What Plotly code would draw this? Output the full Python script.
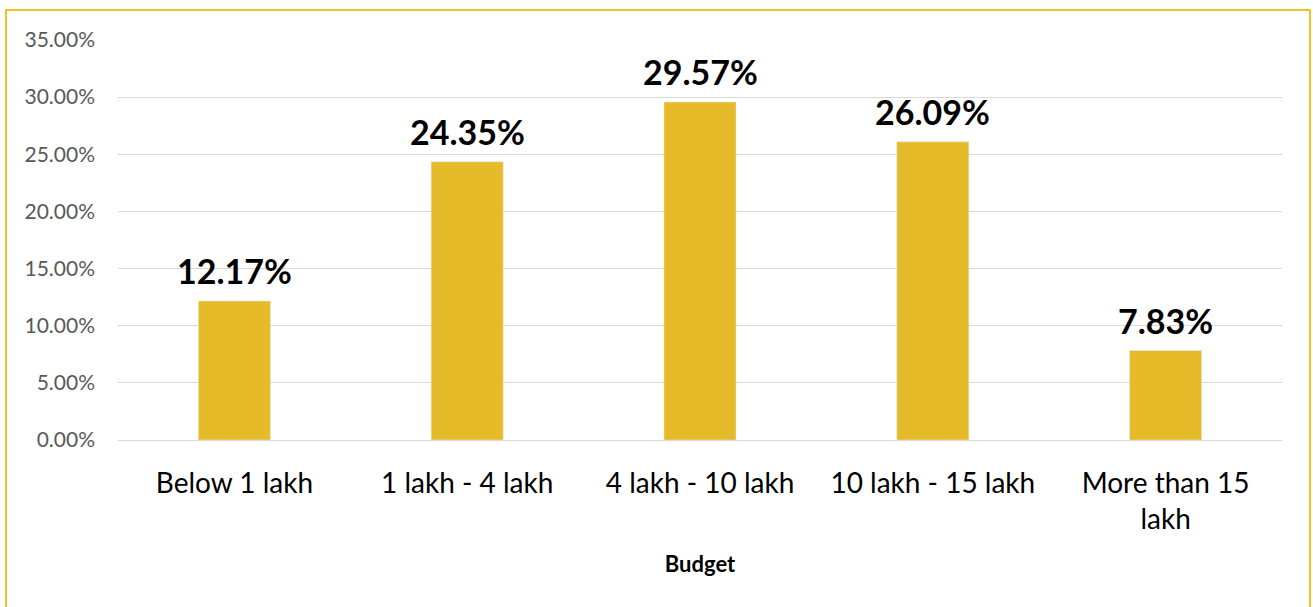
import plotly.graph_objects as go

budget = ['Below 1 lakh', '1 lakh - 4 lakh', '4 lakh - 10 lakh', '10 lakh - 15 lakh', 'More than 15<br>lakh']
share = [0.1217, 0.2435, 0.2957, 0.2609, 0.0783]

fig = go.Figure()
fig.add_trace(go.Bar(x=budget, y=share, marker_color='#E6BB2A'))

# value labels sitting a bit above each bar
for b, s in zip(budget, share):
    fig.add_annotation(x=b, y=s, text='<b>%.2f%%</b>' % (s * 100), showarrow=False,
                       yanchor='bottom', yshift=8,
                       font=dict(size=34, color='black', family='Lato'))

fig.update_layout(
    width=1313, height=607,
    margin=dict(l=118, r=31, t=40, b=167),
    plot_bgcolor='white', paper_bgcolor='white',
    font=dict(family='Lato'),
    bargap=0.69,
    showlegend=False,
)
fig.update_yaxes(
    range=[0, 0.35], dtick=0.05, tickformat='.2%',
    showgrid=True, gridcolor='#D9D9D9', gridwidth=1,
    zeroline=True, zerolinecolor='#D9D9D9', zerolinewidth=1,
    tickfont=dict(size=21, color='#595959'),
    ticks='', ticklabelstandoff=22,
)
fig.update_xaxes(
    tickfont=dict(size=28, color='black'),
    ticks='', ticklabelstandoff=24,
    title=dict(text='<b>Budget</b>', font=dict(size=22, color='black'), standoff=22),
)
# yellow frame around the chart
fig.add_shape(type='rect', xref='paper', yref='paper',
              x0=(6 - 118) / 1164, x1=(1310 - 118) / 1164,
              y0=(440 - 612) / 400, y1=(440 - 10) / 400,
              line=dict(color='#EDC22B', width=2), layer='below')

fig.write_html('out.html', config={'displayModeBar': False},
               post_script="document.body.style.margin='0';")
